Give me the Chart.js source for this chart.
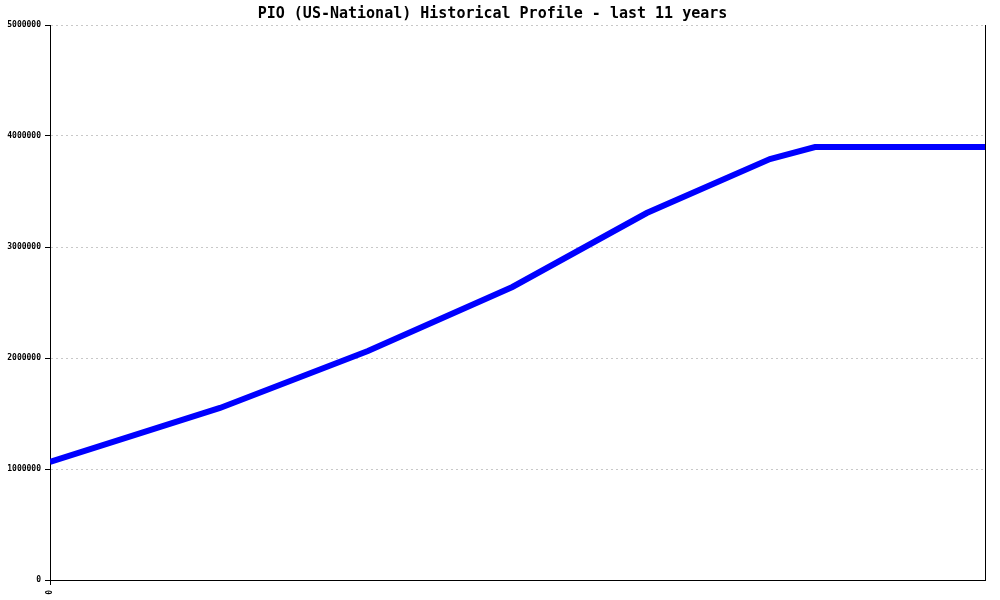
<!DOCTYPE html>
<html>
<head>
<meta charset="utf-8">
<script src="https://cdn.jsdelivr.net/npm/chart.js@4/dist/chart.umd.min.js"></script>
<style>
  html, body { margin: 0; padding: 0; background: #fff; }
  #wrap { width: 1000px; height: 600px; }
</style>
</head>
<body>
<div id="wrap"><canvas id="chart"></canvas></div>
<script>
// years since the start of the 11-year window
const years = [0, 2.0, 3.74, 5.44, 7.02, 8.47, 9.0, 11];
// PIO values
const pio = [1063000, 1550000, 2063000, 2640000, 3306000, 3793000, 3900000, 3900000];
const yTicks = [0, 1000000, 2000000, 3000000, 4000000, 5000000];
const xTicks = [0];

const monoFont = "'DejaVu Sans Mono', 'Liberation Mono', monospace";

new Chart(document.getElementById("chart"), {
  type: "line",
  data: {
    datasets: [{
      data: years.map((x, i) => ({ x: x, y: pio[i] })),
      borderColor: "#0000ff",
      borderWidth: 6,
      pointRadius: 0,
      tension: 0,
      fill: false,
    }],
  },
  options: {
    responsive: true,
    maintainAspectRatio: false,
    animation: false,
    layout: { padding: { right: 15, left: 0, top: 0, bottom: 0 } },
    plugins: {
      legend: { display: false },
      tooltip: { enabled: false },
      title: {
        display: true,
        text: "PIO (US-National) Historical Profile - last 11 years",
        color: "#000",
        font: { family: monoFont, size: 15, weight: "bold", lineHeight: 1.2 },
        padding: { top: 5, bottom: 2 },
      },
    },
    scales: {
      x: {
        type: "linear",
        min: 0,
        max: 11,
        afterBuildTicks: (s) => { s.ticks = xTicks.map((v) => ({ value: v })); },
        afterFit: (s) => { s.height = 20; },
        grid: { drawOnChartArea: false, tickLength: 5, tickColor: "#000" },
        border: { color: "#000", width: 1 },
        ticks: {
          minRotation: 90,
          maxRotation: 90,
          padding: 5,
          color: "#000",
          font: { family: monoFont, size: 8, weight: "bold" },
        },
      },
      y: {
        min: 0,
        max: 5000000,
        afterBuildTicks: (s) => { s.ticks = yTicks.map((v) => ({ value: v })); },
        afterFit: (s) => { s.width = 50; },
        grid: { color: "#c8c8c8", tickColor: "#000", tickLength: 5, lineWidth: 1 },
        border: { color: "#000", width: 1, dash: [2, 3] },
        ticks: {
          padding: 4,
          color: "#000",
          font: { family: monoFont, size: 8, weight: "bold" },
          callback: (v) => String(v),
        },
      },
      y2: {
        position: "right",
        min: 0,
        max: 5000000,
        afterFit: (s) => { s.width = 0; },
        grid: { display: false },
        border: { color: "#000", width: 1 },
        ticks: { display: false },
      },
    },
  },
});
</script>
</body>
</html>
